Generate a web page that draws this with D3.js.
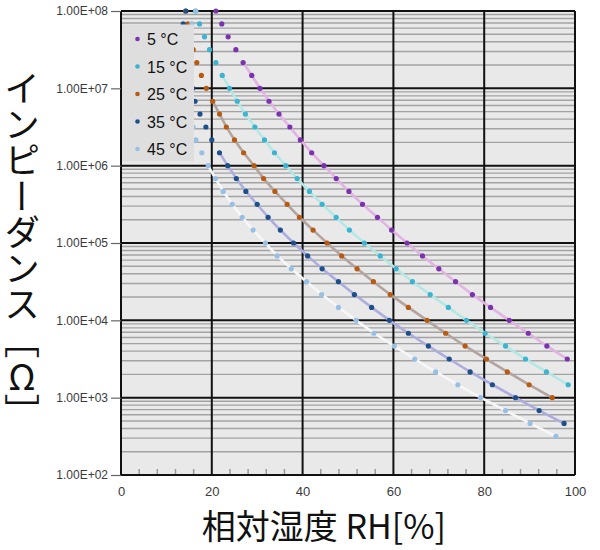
<!DOCTYPE html>
<html>
<head>
<meta charset="utf-8">
<script src="https://cdn.jsdelivr.net/npm/d3@7"></script>
<style>
  html, body { margin: 0; padding: 0; background: #ffffff; }
  svg { display: block; }
</style>
</head>
<body>
<svg id="chart" width="600" height="550"></svg>
<script>
// ---------------- DATA ----------------
const seriesNames = ["5 °C", "15 °C", "25 °C", "35 °C", "45 °C"];

// impedance levels [Ω] at which points were sampled (shared by all series)
const impedance = [1.00e8, 6.81e7, 4.64e7, 3.16e7, 2.15e7, 1.47e7, 1.00e7, 6.81e6, 4.64e6, 3.16e6,
                   2.15e6, 1.47e6, 1.00e6, 6.81e5, 4.64e5, 3.16e5, 2.15e5, 1.47e5, 1.00e5, 6.81e4,
                   4.64e4, 3.16e4, 2.15e4, 1.47e4, 1.00e4, 6810, 4640, 3160, 2150, 1470,
                   1000, 681, 464, 316];

// relative humidity [%] for each series at those impedance levels (null = hidden / absent)
const rh5  = [20.9, 22.2, 23.6, 25.3, 26.9, 28.8, 30.6, 32.6, 34.8, 37.2, 39.5, 42.0, 44.7, 47.4, 50.2,
              53.2, 56.5, 59.6, 63.0, 66.4, 70.0, 73.7, 77.4, 81.4, 85.5, 89.7, 93.8, 98.3];
const rh15 = [16.4, 17.3, 18.4, 19.5, 20.9, 22.3, 23.9, 25.6, 27.4, 29.5, 31.6, 33.8, 36.3, 38.8, 41.5,
              44.3, 47.4, 50.3, 53.6, 57.1, 60.6, 64.2, 68.1, 72.1, 76.1, 80.2, 84.7, 89.1, 93.7, 98.5];
const rh25 = [14.2, 14.7, null, 15.9, 16.7, 17.7, 18.8, 20.2, 21.7, 23.2, 25.0, 27.0, 29.3, 31.4, 33.9,
              36.6, 39.3, 42.3, 45.4, 48.6, 52.0, 55.6, 59.3, 63.3, 67.4, 71.5, 75.8, 80.5, 85.1, 89.9, 95.0];
const rh35 = [14.3, 13.7, null, null, null, null, 15.8, 16.3, 17.4, 18.7, 20.0, 21.7, 23.5, 25.4, 27.5,
              30.0, 32.4, 35.1, 38.0, 41.1, 44.3, 47.9, 51.4, 55.2, 59.1, 63.3, 67.7, 72.3, 76.9, 81.8,
              86.9, 92.1, 97.6];
const rh45 = [16.5, 15.6, null, null, null, null, null, null, null, 15.9, 16.5, 17.8, 19.2, 20.8, 22.5,
              24.5, 26.7, 29.1, 31.8, 34.4, 37.5, 40.9, 44.2, 47.9, 51.8, 55.7, 60.2, 64.7, 69.3, 74.2,
              79.2, 84.7, 90.1, 95.8];

const xTicks = [0, 20, 40, 60, 80, 100];
const yTicks = [1e2, 1e3, 1e4, 1e5, 1e6, 1e7, 1e8];
const yTickLabels = ["1.00E+02", "1.00E+03", "1.00E+04", "1.00E+05", "1.00E+06", "1.00E+07", "1.00E+08"];

// ---------------- STYLE ----------------
const pointColors = ["#7a33ad", "#3cb3cf", "#b85b12", "#1f4f8a", "#98bfe4"];
const trendColors = ["#e2b3e3", "#b3e8e4", "#b3a4a0", "#adacde", "#f7f7f7"];
const trendStart  = [4, 5, 7, 11, 12];

const svg = d3.select("#chart");
const pL = 121, pR = 575, pT = 11, pB = 475;

const x = d3.scaleLinear().domain([0, 100]).range([pL, pR]);
const y = d3.scaleLog().domain([1e2, 1e8]).range([pB, pT]);

// plot background
svg.append("rect").attr("x", pL).attr("y", pT)
  .attr("width", pR - pL).attr("height", pB - pT)
  .attr("fill", "#e9e9e9");

// minor horizontal grid lines
const minorVals = [];
for (let d = 2; d < 8; d++) for (let m = 2; m <= 9; m++) minorVals.push(m * Math.pow(10, d));
svg.append("g").selectAll("line").data(minorVals).join("line")
  .attr("x1", pL).attr("x2", pR)
  .attr("y1", d => y(d)).attr("y2", d => y(d))
  .attr("stroke", "#a3a3a3").attr("stroke-width", 1.4);

// x minor ticks at bottom
const xMinor = d3.range(0, 101, 4).filter(v => v % 20 !== 0);
svg.append("g").selectAll("line").data(xMinor).join("line")
  .attr("x1", d => x(d)).attr("x2", d => x(d))
  .attr("y1", pB - 6).attr("y2", pB)
  .attr("stroke", "#9a9a9a").attr("stroke-width", 1.5);

// major grid
svg.append("g").selectAll("line").data(yTicks).join("line")
  .attr("x1", pL).attr("x2", pR)
  .attr("y1", d => y(d)).attr("y2", d => y(d))
  .attr("stroke", "#111").attr("stroke-width", 2);
svg.append("g").selectAll("line").data(xTicks).join("line")
  .attr("x1", d => x(d)).attr("x2", d => x(d))
  .attr("y1", pT).attr("y2", pB)
  .attr("stroke", "#111").attr("stroke-width", 2);

// axes
const yAxis = d3.axisLeft(y).tickValues(yTicks)
  .tickFormat((d, i) => yTickLabels[i]).tickSize(10).tickPadding(3);
const gy = svg.append("g").attr("transform", `translate(${pL},0)`).call(yAxis);
gy.select(".domain").remove();
gy.selectAll(".tick line").attr("stroke", "#666").attr("stroke-width", 1.2);
gy.selectAll(".tick text").attr("font-family", "Liberation Sans, Arial, sans-serif")
  .attr("font-size", 12).attr("fill", "#3a3a3a");

const xAxis = d3.axisBottom(x).tickValues(xTicks).tickSize(0).tickPadding(12);
const gx = svg.append("g").attr("transform", `translate(0,${pB})`).call(xAxis);
gx.select(".domain").remove();
gx.selectAll(".tick text").attr("font-family", "Liberation Sans, Arial, sans-serif")
  .attr("font-size", 13).attr("fill", "#3a3a3a");

// series
const allRH = [rh5, rh15, rh25, rh35, rh45];
const series = allRH.map((arr, i) => ({
  name: seriesNames[i],
  pts: arr.map((v, k) => ({ rh: v, z: impedance[k], k })).filter(p => p.rh !== null)
}));

const line = d3.line().x(p => x(p.rh)).y(p => y(p.z)).curve(d3.curveBasis);
svg.append("g").selectAll("path").data(series).join("path")
  .attr("d", (s, i) => line(s.pts.filter(p => p.k >= trendStart[i])))
  .attr("fill", "none")
  .attr("stroke", (s, i) => trendColors[i])
  .attr("stroke-width", 2.6);

series.forEach((s, i) => {
  svg.append("g").selectAll("circle").data(s.pts).join("circle")
    .attr("cx", p => x(p.rh)).attr("cy", p => y(p.z)).attr("r", 2.6)
    .attr("fill", pointColors[i]);
});

// legend
const lg = svg.append("g");
lg.append("rect").attr("x", 122).attr("y", 24.5).attr("width", 72).attr("height", 137)
  .attr("fill", "#dedede");
seriesNames.forEach((n, i) => {
  const cy = 39 + i * 27.5;
  lg.append("circle").attr("cx", 137.5).attr("cy", cy).attr("r", 2.3).attr("fill", pointColors[i]);
  lg.append("text").attr("x", 147).attr("y", cy + 6)
    .attr("font-family", "Liberation Sans, Arial, sans-serif").attr("font-size", 16)
    .attr("fill", "#111").text(n);
});

// axis titles
const yt = svg.append("text").attr("x", 22).attr("y", 70)
  .style("writing-mode", "vertical-rl")
  .attr("font-family", "Noto Sans CJK JP").attr("font-size", 36).attr("fill", "#111");
yt.append("tspan").text("インピーダンス［");
yt.append("tspan").style("text-orientation", "upright").text("\u03A9");
yt.append("tspan").text("］");

svg.append("text").attr("x", 324).attr("y", 539).attr("text-anchor", "middle")
  .attr("font-family", "Noto Sans CJK JP").attr("font-size", 34).attr("fill", "#111")
  .text("相対湿度 RH[%]");
</script>
</body>
</html>
